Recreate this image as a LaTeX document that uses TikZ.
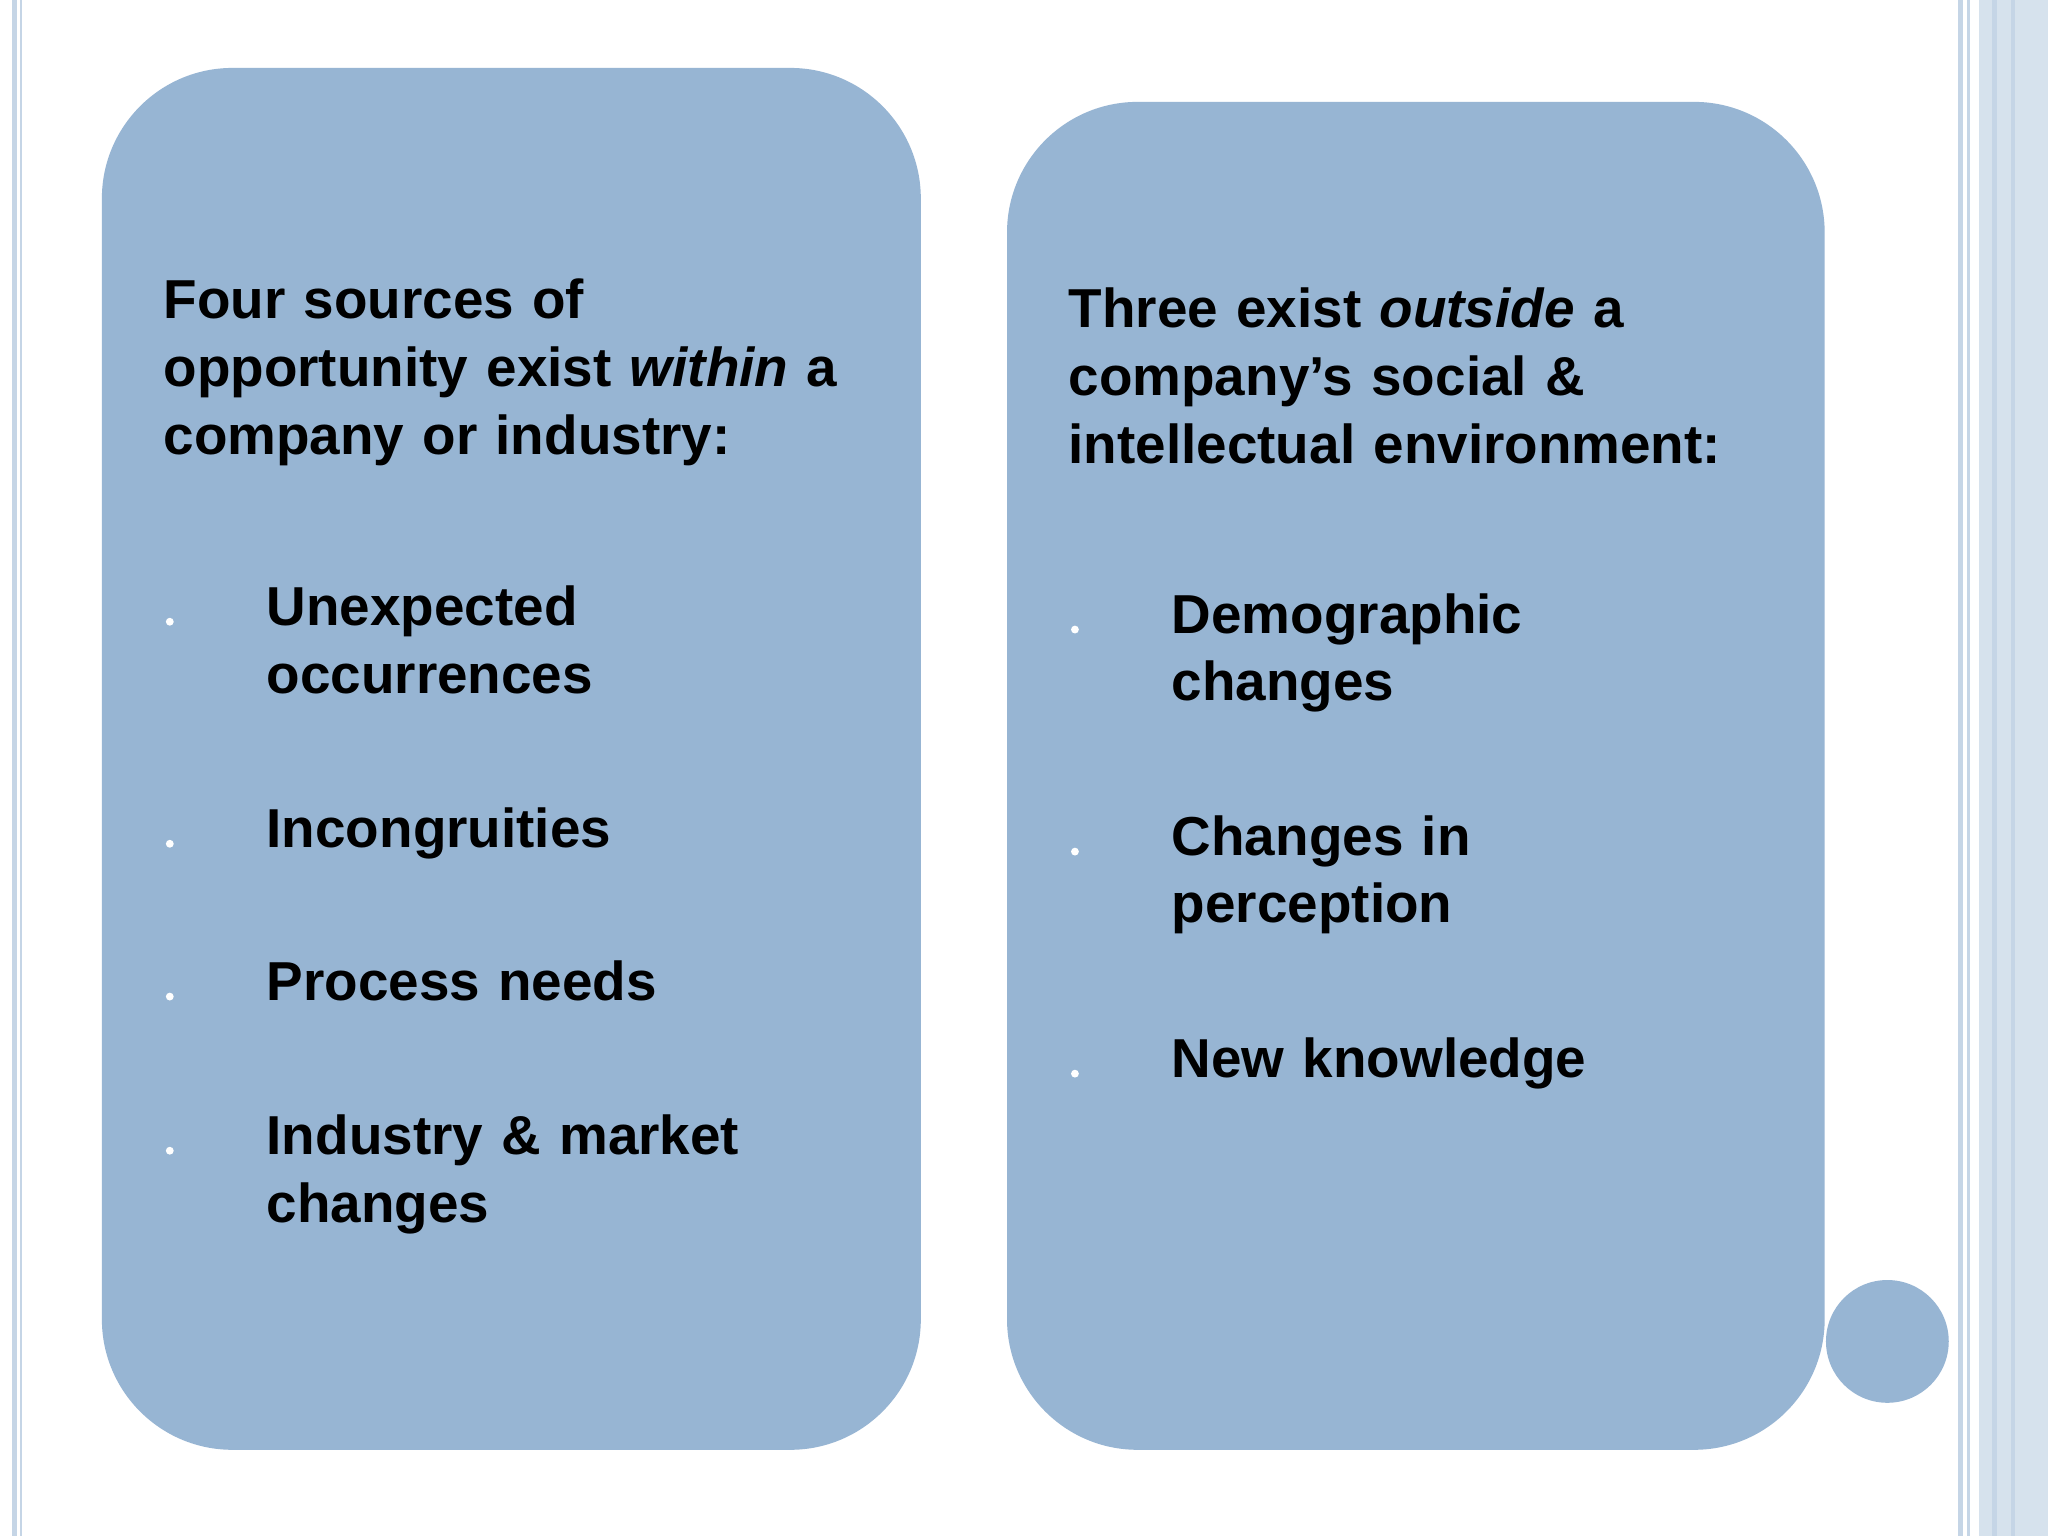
\documentclass[tikz,border=0pt]{standalone}
\usepackage{fontspec}
\setmainfont{Liberation Sans}
\definecolor{boxc}{HTML}{97B5D3}
\definecolor{linec}{HTML}{C5D5E6}
\begin{document}
\begin{tikzpicture}[x=1pt,y=-1pt,
  card/.style={fill=boxc,rounded corners=100pt},
  txt/.style={anchor=north west,align=left,font=\fontsize{42}{52}\selectfont\bfseries,inner sep=0pt,text width=#1},
  dot/.style={circle,fill=white,inner sep=0pt,minimum size=6pt}]
\useasboundingbox (0,0) rectangle (1568,1176);
\fill[white] (0,0) rectangle (1568,1176);
% borders
\fill[linec] (9,0) rectangle (13,1176);
\fill[linec] (15,0) rectangle (17,1176);
\fill[linec] (1499,0) rectangle (1503,1176);
\fill[linec] (1506,0) rectangle (1508,1176);
\fill[linec!70] (1515,0) rectangle (1568,1176);
\fill[linec] (1525,0) rectangle (1529,1176);
\fill[linec] (1540,0) rectangle (1543,1176);
% cards
\path[card] (78,52) rectangle (705,1110);
\path[card] (771,78) rectangle (1397,1110);
\node[circle,fill=boxc,minimum size=94pt,inner sep=0pt] (c) at (1445,1027) {};
% left text
\node[txt=560pt] (lh) at (125,213) {Four sources of\\opportunity exist \textit{within} a\\company or industry:};
\node[dot] (lb1) at (130,476) {};
\node[txt=480pt] (l1) at (204,448) {Unexpected\\occurrences};
\node[dot] (lb2) at (130,646) {};
\node[txt=480pt] (l2) at (204,618) {Incongruities};
\node[dot] (lb3) at (130,763) {};
\node[txt=480pt] (l3) at (204,735) {Process needs};
\node[dot] (lb4) at (130,881) {};
\node[txt=480pt] (l4) at (204,853) {Industry \& market\\changes};
% right text
\node[txt=560pt] (rh) at (818,220) {Three exist \textit{outside} a\\company’s social \&\\intellectual environment:};
\node[dot] (rb1) at (823,482) {};
\node[txt=480pt] (r1) at (897,454) {Demographic\\changes};
\node[dot] (rb2) at (823,652) {};
\node[txt=480pt] (r2) at (897,624) {Changes in\\perception};
\node[dot] (rb3) at (823,822) {};
\node[txt=480pt] (r3) at (897,794) {New knowledge};
\end{tikzpicture}
\end{document}
